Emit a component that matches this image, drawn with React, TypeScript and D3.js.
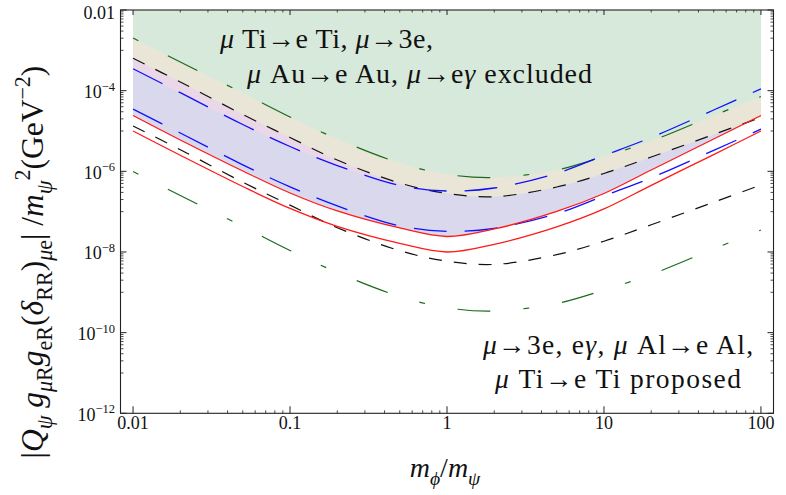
import React from "react";
import * as d3 from "d3";

const W = 786;
const H = 495;

// m_phi / m_psi sample points
const massRatio = [0.01, 0.02, 0.05, 0.1, 0.2, 0.5, 1, 2, 5, 10, 20, 50, 100];

// present limits (upper curves, bounding shaded regions)
const greenNow = [2.02e-3, 5.14e-4, 8.75e-5, 2.22e-5, 6.33e-6, 1.61e-6, 8.43e-7, 7.03e-7, 1.08e-6, 2.33e-6, 5.65e-6, 2.42e-5, 7.16e-5];
const blackNow = [6.34e-4, 1.64e-4, 2.56e-5, 6.9e-6, 1.91e-6, 5.13e-7, 2.82e-7, 2.35e-7, 4.08e-7, 8.83e-7, 2.26e-6, 8.18e-6, 2.18e-5];
const blueNow = [3.5e-4, 8.9e-5, 1.45e-5, 4.12e-6, 1.39e-6, 4.45e-7, 3.25e-7, 3.86e-7, 8.93e-7, 2.47e-6, 6.9e-6, 3.31e-5, 1.11e-4];
const redNow = [2.42e-5, 5.98e-6, 1.02e-6, 2.9e-7, 1.04e-7, 3.94e-8, 2.42e-8, 3.72e-8, 1.01e-7, 2.82e-7, 1.08e-6, 6.33e-6, 2.42e-5];

// proposed sensitivities (lower curves)
const greenFuture = [9.9e-7, 2.52e-7, 4.29e-8, 1.09e-8, 3.1e-9, 7.9e-10, 4.13e-10, 3.44e-10, 5.3e-10, 1.14e-9, 2.77e-9, 1.19e-8, 3.51e-8];
const blackFuture = [1.33e-5, 3.44e-6, 5.37e-7, 1.45e-7, 4.0e-8, 1.08e-8, 5.9e-9, 4.92e-9, 8.57e-9, 1.85e-8, 4.74e-8, 1.71e-7, 4.58e-7];
const blueFuture = [3.5e-5, 8.9e-6, 1.45e-6, 4.12e-7, 1.39e-7, 4.45e-8, 3.25e-8, 3.86e-8, 8.93e-8, 2.47e-7, 6.9e-7, 3.31e-6, 1.11e-5];
const redFuture = [1.0e-5, 2.5e-6, 4.2e-7, 1.2e-7, 4.3e-8, 1.63e-8, 1.0e-8, 1.55e-8, 4.2e-8, 1.17e-7, 4.5e-7, 2.6e-6, 1.0e-5];

const xTickValues = [0.01, 0.1, 1, 10, 100];
const xTickLabels = ["0.01", "0.1", "1", "10", "100"];
const yTickValues = [1e-2, 1e-4, 1e-6, 1e-8, 1e-10, 1e-12];
const yTickExponents = ["", "\u22124", "\u22126", "\u22128", "\u221210", "\u221212"];

const FONT = "Liberation Serif, Times New Roman, serif";

const frame = { left: 120.5, right: 773.5, top: 10, bottom: 413.3 };

type Seg = [string, number, boolean]; // text, level (0 base, -1 sub, 1 sup), italic

function Rich({ segs, size, x, y, transform, anchor, textLength }: {
  segs: Seg[]; size: number; x?: number; y?: number; transform?: string; anchor?: string; textLength?: number;
}) {
  const off = (lv: number) => (lv < 0 ? size * 0.3 : lv > 0 ? -size * 0.42 : 0);
  let prev = 0;
  return (
    <text
      x={x}
      y={y}
      transform={transform}
      textAnchor={anchor || "start"}
      fontFamily={FONT}
      fontSize={size}
      fill="#111"
      style={{ whiteSpace: "pre" }}
      textLength={textLength}
      lengthAdjust={textLength ? "spacing" : undefined}
    >
      {segs.map(([t, lv, it], i) => {
        const dy = off(lv) - off(prev);
        prev = lv;
        return (
          <tspan key={i} dy={dy || undefined} fontSize={lv === 0 ? size : size * 0.7} fontStyle={it ? "italic" : "normal"}>
            {t}
          </tspan>
        );
      })}
    </text>
  );
}

export default function App() {
  const x = d3.scaleLog().domain([10 ** -2.08, 10 ** 2.08]).range([frame.left, frame.right]);
  const y = d3.scaleLog().domain([1e-12, 1e-2]).range([frame.bottom, frame.top]);
  const curve = d3.curveCatmullRom.alpha(0.5);
  const pts = (vals: number[]) => massRatio.map((m, i) => [m, vals[i]] as [number, number]);
  const line = d3.line<[number, number]>().x((d) => x(d[0])).y((d) => y(d[1])).curve(curve);
  const area = d3
    .area<[number, number]>()
    .x((d) => x(d[0]))
    .y0(frame.top)
    .y1((d) => y(d[1]))
    .curve(curve);

  // excluded regions, later ones painted over earlier ones
  const fills = [
    { vals: redNow, color: "#d9d8ec" },
    { vals: blueNow, color: "#ead8e8" },
    { vals: blackNow, color: "#e9e6d7" },
    { vals: greenNow, color: "#d7e9db" },
  ];

  const styles = {
    green: { stroke: "#1a6b1a", dash: "33 33 6 33", offset: 66, width: 1.2 },
    black: { stroke: "#111111", dash: "13 12", offset: 0, width: 1.2 },
    blue: { stroke: "#1010ff", dash: "33 18", offset: 0, width: 1.3 },
    red: { stroke: "#ff1a1a", dash: undefined as string | undefined, offset: 0, width: 1.3 },
  };
  const curves = [
    { vals: greenNow, s: styles.green },
    { vals: greenFuture, s: styles.green },
    { vals: blackNow, s: styles.black },
    { vals: blackFuture, s: styles.black },
    { vals: blueNow, s: styles.blue },
    { vals: blueFuture, s: styles.blue },
    { vals: redNow, s: styles.red },
    { vals: redFuture, s: styles.red },
  ];

  // axis ticks
  const xMinor: number[] = [];
  for (let k = -2; k <= 1; k++) for (let m = 2; m <= 9; m++) xMinor.push(m * 10 ** k);
  const yMinor: number[] = [];
  for (const k of [-3, -5, -7, -9, -11]) for (let m = 1; m <= 9; m++) yMinor.push(m * 10 ** k);

  const axisColor = "#222";
  const mu: Seg = ["\u03bc", 0, true];

  return (
    <svg width={W} height={H} style={{ position: "absolute", left: 0, top: 0, background: "#fff" }}>
      <rect x={0} y={0} width={W} height={H} fill="#fff" />
      {fills.map((f, i) => (
        <path key={"f" + i} d={area(pts(f.vals)) || ""} fill={f.color} stroke="none" />
      ))}
      {curves.map((c, i) => (
        <path
          key={"c" + i}
          d={line(pts(c.vals)) || ""}
          fill="none"
          stroke={c.s.stroke}
          strokeWidth={c.s.width}
          strokeDasharray={c.s.dash}
          strokeDashoffset={c.s.offset}
        />
      ))}

      {/* frame */}
      <rect
        x={frame.left}
        y={frame.top}
        width={frame.right - frame.left}
        height={frame.bottom - frame.top}
        fill="none"
        stroke={axisColor}
        strokeWidth={1.1}
      />
      {xTickValues.map((v) => (
        <g key={"xt" + v} stroke={axisColor} strokeWidth={1}>
          <line x1={x(v)} x2={x(v)} y1={frame.bottom} y2={frame.bottom - 7} />
          <line x1={x(v)} x2={x(v)} y1={frame.top} y2={frame.top + 5} />
        </g>
      ))}
      {xMinor.map((v) => (
        <g key={"xm" + v} stroke={axisColor} strokeWidth={0.8}>
          <line x1={x(v)} x2={x(v)} y1={frame.bottom} y2={frame.bottom - 3} />
          <line x1={x(v)} x2={x(v)} y1={frame.top} y2={frame.top + 2.5} />
        </g>
      ))}
      {yTickValues.map((v) => (
        <g key={"yt" + v} stroke={axisColor} strokeWidth={1}>
          <line x1={frame.left} x2={frame.left + 6} y1={y(v)} y2={y(v)} />
          <line x1={frame.right} x2={frame.right - 6} y1={y(v)} y2={y(v)} />
        </g>
      ))}
      {yMinor.map((v) => (
        <g key={"ym" + v} stroke={axisColor} strokeWidth={0.8}>
          <line x1={frame.left} x2={frame.left + 3} y1={y(v)} y2={y(v)} />
          <line x1={frame.right} x2={frame.right - 3} y1={y(v)} y2={y(v)} />
        </g>
      ))}

      {/* tick labels */}
      {xTickValues.map((v, i) => (
        <text key={"xl" + v} x={x(v)} y={428.5} textAnchor="middle" fontFamily={FONT} fontSize={18} fill="#111">
          {xTickLabels[i]}
        </text>
      ))}
      {yTickValues.map((v, i) =>
        i === 0 ? (
          <text key={"yl" + v} x={115} y={y(v) + 9} textAnchor="end" fontFamily={FONT} fontSize={18} fill="#111">
            0.01
          </text>
        ) : (
          <text key={"yl" + v} x={115} y={y(v) + 7.5} textAnchor="end" fontFamily={FONT} fontSize={18} fill="#111">
            10
            <tspan dy={-7.5} fontSize={12.5}>
              {yTickExponents[i]}
            </tspan>
          </text>
        )
      )}

      {/* axis titles */}
      <Rich
        segs={[["m", 0, true], ["\u03d5", -1, true], ["/", 0, false], ["m", 0, true], ["\u03c8", -1, true]]}
        size={28}
        x={445}
        y={477}
        anchor="middle"
      />
      <Rich
        segs={[
          ["|", 0, false], ["Q", 0, true], ["\u03c8", -1, true], [" ", 0, false],
          ["g", 0, true], ["\u03bc", -1, true], ["R", -1, false],
          ["g", 0, true], ["e", -1, false], ["R", -1, false],
          ["(", 0, false], ["\u03b4", 0, true], ["RR", -1, false], [")", 0, false],
          ["\u03bc", -1, true], ["e", -1, false],
          ["| /", 0, false], ["m", 0, true], ["\u03c8", -1, true], ["2", 1, false],
          ["(GeV", 0, false], ["\u22122", 1, false], [")", 0, false],
        ]}
        size={31.5}
        transform="translate(43,262) rotate(-90)"
        anchor="middle"
      />

      {/* region labels */}
      <Rich segs={[mu, [" Ti\u2192e Ti, ", 0, false], mu, ["\u21923e,", 0, false]]} size={28} x={220} y={48} textLength={213} />
      <Rich
        segs={[mu, [" Au\u2192e Au, ", 0, false], mu, ["\u2192e", 0, false], ["\u03b3", 0, true], [" excluded", 0, false]]}
        size={28}
        x={247}
        y={83}
        textLength={345}
      />
      <Rich
        segs={[mu, ["\u21923e, e", 0, false], ["\u03b3", 0, true], [", ", 0, false], mu, [" Al\u2192e Al,", 0, false]]}
        size={27.5}
        x={483}
        y={354}
        textLength={270}
      />
      <Rich segs={[mu, [" Ti\u2192e Ti proposed", 0, false]]} size={27.5} x={495} y={388} textLength={246} />
    </svg>
  );
}
